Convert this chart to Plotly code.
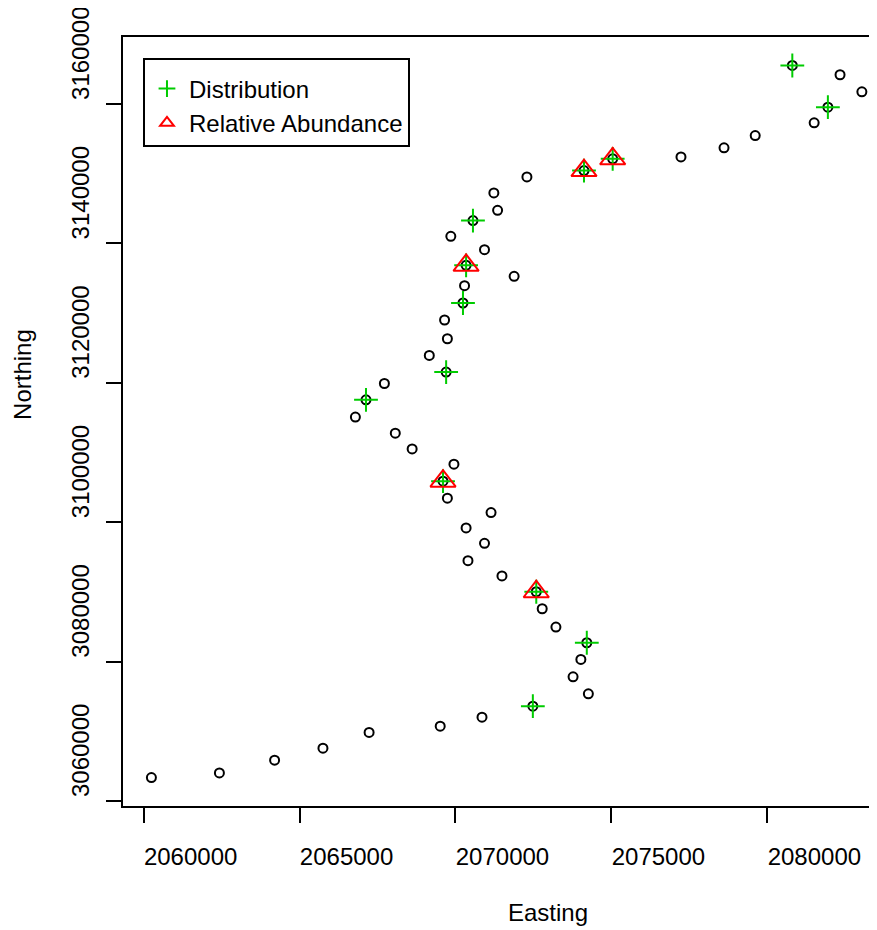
import plotly.graph_objects as go

# All survey sites
easting = [2060250, 2062430, 2064200, 2065750, 2067230, 2069510, 2070850, 2072480,
           2074260, 2073770, 2074020, 2074210, 2073220, 2072780, 2072590, 2071490,
           2070400, 2070930, 2070340, 2071140, 2069740, 2069600, 2069950, 2068610,
           2068070, 2066790, 2067130, 2067720, 2069700, 2069160, 2069740, 2069650,
           2070240, 2070290, 2070340, 2071880, 2070930, 2069850, 2070560, 2071350,
           2071230, 2072290, 2074120, 2075040, 2077230, 2078610, 2079610, 2081500,
           2081940, 2080800, 2082330, 2083030]
northing = [3063360, 3064020, 3065840, 3067570, 3069820, 3070730, 3072020, 3073600,
            3075370, 3077810, 3080300, 3082690, 3084940, 3087570, 3090010, 3092270,
            3094460, 3096960, 3099160, 3101360, 3103430, 3105870, 3108310, 3110500,
            3112760, 3115060, 3117540, 3119880, 3121520, 3123900, 3126300, 3128990,
            3131430, 3133910, 3136830, 3135250, 3139080, 3140990, 3143250, 3144720,
            3147220, 3149520, 3150430, 3152110, 3152390, 3153690, 3155450, 3157280,
            3159520, 3165500, 3164170, 3161730]

# Sites with distribution records
dist_easting = [2072480, 2074210, 2072590, 2069600, 2067130, 2069700, 2070240,
                2070340, 2070560, 2074120, 2075040, 2081940, 2080800]
dist_northing = [3073600, 3082690, 3090010, 3105870, 3117540, 3121520, 3131430,
                 3136830, 3143250, 3150430, 3152110, 3159520, 3165500]

# Sites with relative abundance records
abund_easting = [2072590, 2069600, 2070340, 2074120, 2075040]
abund_northing = [3090010, 3105870, 3136830, 3150430, 3152110]

x_ticks = [2060000, 2065000, 2070000, 2075000, 2080000]
y_ticks = [3060000, 3080000, 3100000, 3120000, 3140000, 3160000]

FONT = "Liberation Sans, Arial, sans-serif"

fig = go.Figure()
fig.add_trace(go.Scatter(
    x=easting, y=northing, mode="markers", showlegend=False,
    marker=dict(symbol="circle-open", size=9, color="black",
                line=dict(color="black", width=2)),
    hoverinfo="skip"))
fig.add_trace(go.Scatter(
    x=dist_easting, y=dist_northing, mode="markers", name="Distribution",
    marker=dict(symbol="cross-thin-open", size=17, color="#00cc00",
                line=dict(color="#00cc00", width=2))))
fig.add_trace(go.Scatter(
    x=abund_easting, y=abund_northing, mode="markers", name="Relative Abundance",
    marker=dict(symbol="triangle-up-open", size=22, color="#ff0000",
                line=dict(color="#ff0000", width=2))))

fig.update_layout(
    width=869, height=922,
    margin=dict(l=115, r=0, t=29, b=124),
    paper_bgcolor="white", plot_bgcolor="white",
    font=dict(family=FONT, size=24, color="black"),
    showlegend=True,
    legend=dict(x=0.0265, y=0.9727, xanchor="left", yanchor="top",
                bordercolor="black", borderwidth=2, bgcolor="white",
                font=dict(family=FONT, size=24, color="black"),
                title=dict(text=" ", font=dict(size=5)),
                itemsizing="constant", itemwidth=34, tracegroupgap=0),
    xaxis=dict(range=[2059339, 2083515], tickvals=x_ticks,
               ticktext=[str(v) for v in x_ticks],
               ticks="outside", ticklen=15, tickwidth=2, tickcolor="black",
               showline=True, linewidth=2, linecolor="black", mirror=True,
               showgrid=False, zeroline=False, ticklabeloverflow="allow",
               tickfont=dict(family=FONT, size=24, color="black"),
               ticklabelshift=47, ticklabelstandoff=13),
    yaxis=dict(range=[3059274, 3169586], tickvals=y_ticks,
               ticktext=[str(v) for v in y_ticks],
               ticks="outside", ticklen=15, tickwidth=2, tickcolor="black",
               showline=True, linewidth=2, linecolor="black", mirror=False,
               showgrid=False, zeroline=False, tickangle=-90,
               ticklabeloverflow="allow",
               tickfont=dict(family=FONT, size=24, color="black"),
               ticklabelshift=-47, ticklabelstandoff=7),
    annotations=[
        dict(text="Easting", xref="paper", yref="paper", x=0.5086, y=-0.1391,
             xanchor="left", yanchor="middle", showarrow=False,
             font=dict(family=FONT, size=24, color="black")),
        dict(text="Northing", xref="paper", yref="paper", x=-0.133, y=0.4997,
             xanchor="center", yanchor="bottom", textangle=-90, showarrow=False,
             font=dict(family=FONT, size=24, color="black")),
    ],
)

fig.write_html("out.html")
